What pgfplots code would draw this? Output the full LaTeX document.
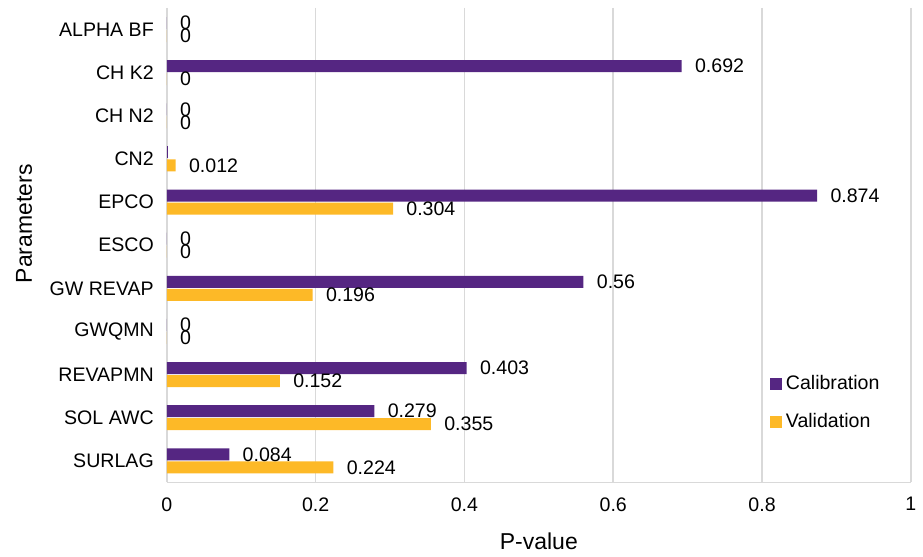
\documentclass[border=0pt]{standalone}
\usepackage{pgfplots}
\pgfplotsset{compat=1.18}
\usepackage{fontspec}
\setmainfont{Liberation Sans}
\definecolor{calib}{RGB}{85,38,130}
\definecolor{valid}{RGB}{253,185,39}
\definecolor{gridc}{RGB}{217,217,217}
\begin{document}
\begin{tikzpicture}
\begin{axis}[
  scale only axis, width=372.5pt, height=237.5pt,
  xbar, bar width=6pt,
  xmin=0, xmax=1, ymin=-0.5, ymax=10.5,
  y dir=reverse,
  ytick={0,...,10},
  yticklabels={ALPHA BF,CH K2,CH N2,CN2,EPCO,ESCO,GW REVAP,GWQMN,REVAPMN,SOL AWC,SURLAG},
  xtick={0,0.2,0.4,0.6,0.8,1},
  xticklabels={0,0.2,0.4,0.6,0.8,1},
  major tick length=0pt,
  axis x line*=bottom, axis y line*=left,
  axis line style={gridc, line width=0.8pt},
  xmajorgrids, grid style={gridc, line width=0.8pt},
  ymajorgrids=false,
  tick label style={font=\fontsize{9.8}{11}\selectfont, black},
  xticklabel style={yshift=-4pt},
  yticklabel style={xshift=-3pt},
  xlabel={P-value}, ylabel={Parameters},
  label style={font=\fontsize{11.5}{13}\selectfont},
  xlabel style={yshift=-4pt},
  ylabel style={at={(ticklabel cs:0.545)}, yshift=2pt},
  nodes near coords,
  point meta=explicit symbolic,
  every node near coord/.append style={font=\fontsize{9.8}{11}\selectfont, black, anchor=west, inner sep=0pt, xshift=6.5pt},
  legend style={draw=none, fill=none, at={(0.81,0.234)}, anchor=north west, font=\fontsize{9.8}{11}\selectfont, row sep=6pt, inner sep=0pt},
  legend cell align=left,
  legend image code/.code={\fill[#1, draw=none] (0pt,-3pt) rectangle (6pt,3pt);},
]
\addplot[fill=calib, draw=none, bar shift=3.25pt] coordinates {
  (0,0) [0]
  (0.692,1) [0.692]
  (0,2) [0]
  (0.874,4) [0.874]
  (0,5) [0]
  (0.56,6) [0.56]
  (0,7) [0]
  (0.403,8) [0.403]
  (0.279,9) [0.279]
  (0.084,10) [0.084]
};
\addlegendentry{Calibration}
\addplot[fill=valid, draw=none, bar shift=-3.25pt] coordinates {
  (0,0) [0]
  (0,1) [0]
  (0,2) [0]
  (0.012,3) [0.012]
  (0.304,4) [0.304]
  (0,5) [0]
  (0.196,6) [0.196]
  (0,7) [0]
  (0.152,8) [0.152]
  (0.355,9) [0.355]
  (0.224,10) [0.224]
};
\addlegendentry{Validation}
\addplot[fill=calib, draw=none, bar shift=3.25pt, nodes near coords=, forget plot] coordinates {
  (0.0012,3)
};
\end{axis}
\path ([shift={(-83.5pt,-35pt)}]current axis.south west) rectangle ([shift={(5.5pt,4pt)}]current axis.north east);
\end{tikzpicture}
\end{document}
